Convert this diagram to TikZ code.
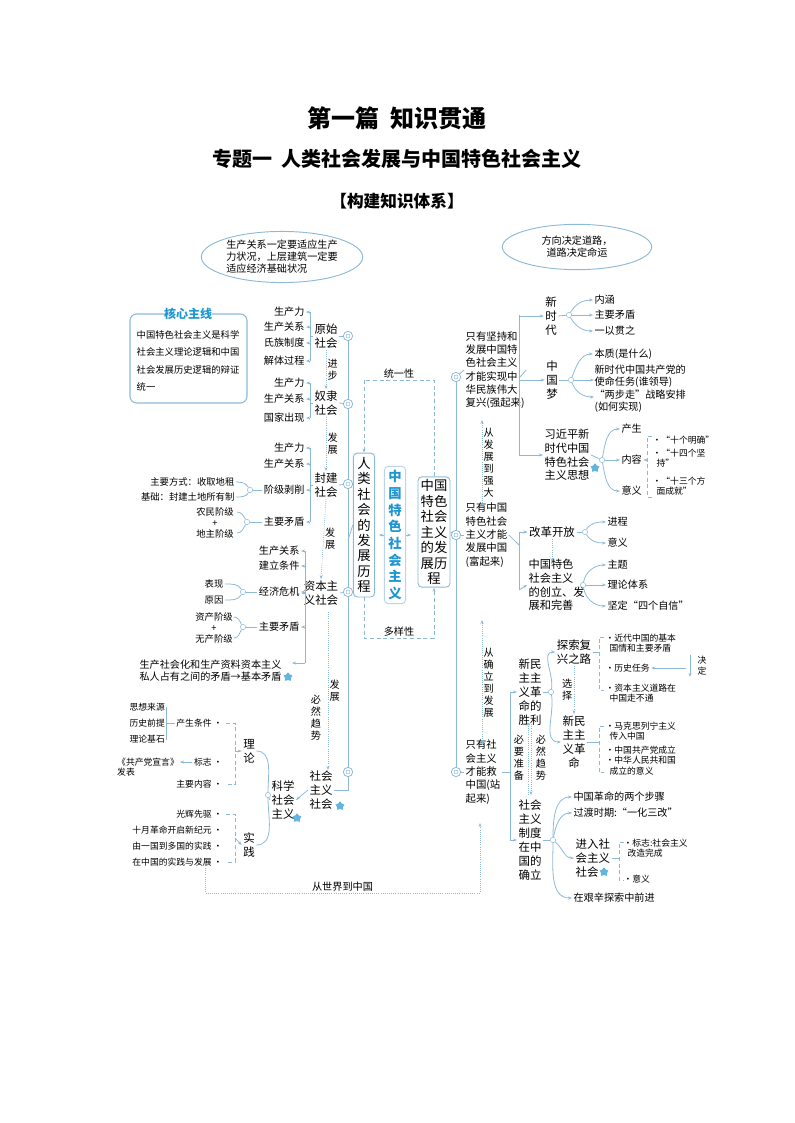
\documentclass[tikz,border=0pt]{standalone}
\usepackage{fontspec}
\setmainfont{Noto Sans CJK SC}
\usetikzlibrary{arrows.meta,shapes.geometric}
\definecolor{lb}{RGB}{140,185,215}
\definecolor{tb}{RGB}{30,150,210}
\tikzset{
 t/.style={font=\fontsize{7.6}{9}\selectfont,inner sep=1pt,align=center},
 sm/.style={font=\fontsize{6.6}{8}\selectfont,inner sep=1pt,align=left},
 m/.style={font=\fontsize{7.8}{10}\selectfont,inner sep=1pt,align=left},
 ln/.style={draw=lb,line width=0.6pt},
 la/.style={draw=lb,line width=0.6pt,-{Stealth[length=3pt]}},
 dl/.style={draw=lb,densely dotted,line width=0.6pt,-{Stealth[length=3pt]}},
 dsh/.style={draw=lb,densely dashed,line width=0.6pt},
 vbox/.style={draw=lb,rounded corners=3pt,line width=0.7pt,font=\fontsize{10}{11.6}\selectfont,align=center,inner sep=3pt},
 ring/.style={circle,draw=lb,line width=0.6pt,minimum size=7pt,inner sep=0pt,fill=white},
 bstar/.style={star,star points=5,fill=tb!70,inner sep=0pt,minimum size=7pt}
}
\begin{document}
\begin{tikzpicture}[x=0.75pt,y=-0.75pt]
\useasboundingbox (0,0) rectangle (794,1123);
% titles
\node (T1) at (397,118) {\fontsize{18}{20}\selectfont\bfseries 第一篇\ \ 知识贯通};
\node (T2) at (397,159) {\fontsize{15}{18}\selectfont\bfseries 专题一\ \ 人类社会发展与中国特色社会主义};
\node (T3) at (397,201) {\fontsize{12.5}{15}\selectfont\bfseries 【构建知识体系】};
% ellipses
\node[ellipse,draw=lb,line width=0.7pt,minimum width=112pt,minimum height=38pt,t,align=left] (E1) at (282,257) {生产关系一定要适应生产\\力状况，上层建筑一定要\\适应经济基础状况};
\node[ellipse,draw=lb,line width=0.7pt,minimum width=112pt,minimum height=34pt,t] (E2) at (577,247) {方向决定道路，\\道路决定命运};
% core box
\draw[draw=lb,line width=0.8pt,rounded corners=5pt] (165,314) -- (130,314) -- (130,403) -- (247,403) -- (247,314) -- (212,314);
\node[font=\fontsize{9}{10}\selectfont\bfseries,text=tb] (CORE) at (188,314) {核心主线};
\node[sm,font=\fontsize{7}{13}\selectfont] (CORET) at (188,361) {中国特色社会主义是科学\\社会主义理论逻辑和中国\\社会发展历史逻辑的辩证\\统一};
% left spine
\draw[ln] (348,336) -- (348,772);
\foreach \n/\y in {r1/336,r2/404,r3/484,r4/592,r5/772}{\node[ring] (\n) at (348,\y) {};\node[circle,draw=lb,minimum size=3pt,inner sep=0pt] at (348,\y) {};}
% societies
\node[t,font=\fontsize{8.6}{10.5}\selectfont] (S1) at (326,336) {原始\\社会};
\node[t,font=\fontsize{8.6}{10.5}\selectfont] (S2) at (326,403) {奴隶\\社会};
\node[t,font=\fontsize{8.6}{10.5}\selectfont] (S3) at (326,485) {封建\\社会};
\node[t,font=\fontsize{8.6}{10.5}\selectfont] (S4) at (321,593) {资本主\\义社会};
\node[t,font=\fontsize{8.6}{10.5}\selectfont] (S5) at (321,790) {社会\\主义\\社会};
\foreach \a/\b in {S1/r1,S2/r2,S3/r3,S4/r4}{\draw[ln] (\a.east) -- (\b);}
\draw[ln] (r5) -- (348,790) -- (S5.east);
\node[bstar] (st5) at (340,806) {};
\draw[dl] (S1.south) -- node[t,right]{进\\步} (S2.north);
\draw[dl] (S2.south) -- node[t,right]{发\\展} (S3.north);
\draw[dl] (S3.south) -- node[t,right]{发\\展} (S4.north);
\draw[dl] (328,612) -- node[t,right]{发\\展} (328,770);
\node[t] (BR) at (316,718) {必\\然\\趋\\势};
\foreach \txt/\y/\nm in {生产力/312/a1,生产关系/327/a2,氏族制度/343/a3,解体过程/361/a4}{\node[t,anchor=east] (\nm) at (306,\y) {\txt};\draw[la] (310,\y) -- (\nm.east);}
\draw[ln] (310,312) -- (310,361); \draw[ln] (S1.west) -- (310,336);
\foreach \txt/\y/\nm in {生产力/383/b1,生产关系/399/b2,国家出现/418/b3}{\node[t,anchor=east] (\nm) at (306,\y) {\txt};\draw[la] (310,\y) -- (\nm.east);}
\draw[ln] (310,383) -- (310,418); \draw[ln] (S2.west) -- (310,403);
\foreach \txt/\y/\nm in {生产力/448/c1,生产关系/464/c2,阶级剥削/490/c3,主要矛盾/522/c4}{\node[t,anchor=east] (\nm) at (306,\y) {\txt};\draw[la] (310,\y) -- (\nm.east);}
\draw[ln] (310,448) -- (310,522); \draw[ln] (S3.west) -- (310,485);
\node[t,anchor=east,font=\fontsize{7}{8}\selectfont] (c31) at (236,482) {主要方式：收取地租};
\node[t,anchor=east,font=\fontsize{7}{8}\selectfont] (c32) at (236,497) {基础：封建土地所有制};
\node[circle,draw=lb,inner sep=0pt,minimum size=4pt] (h3) at (250,490) {};
\draw[ln] (h3) -- (c3.west); \draw[ln] (h3) to[out=120,in=0] (c31.east); \draw[ln] (h3) to[out=-120,in=0] (c32.east);
\node[t,font=\fontsize{7}{8}\selectfont] (c41) at (215,523) {农民阶级\\+\\地主阶级};
\node[circle,draw=lb,inner sep=0pt,minimum size=4pt] (h4) at (247,522) {};
\draw[ln] (h4) -- (c4.west); \draw[ln] (h4) to[out=120,in=0] (237,512); \draw[ln] (h4) to[out=-120,in=0] (237,533);
\foreach \txt/\y/\nm in {生产关系/551/d1,建立条件/566/d2,经济危机/592/d3,主要矛盾/627/d4}{\node[t,anchor=east] (\nm) at (301,\y) {\txt};\draw[la] (305,\y) -- (\nm.east);}
\node[t,anchor=east,align=left] (d5) at (283,671) {生产社会化和生产资料资本主义\\私人占有之间的矛盾→基本矛盾};
\node[bstar] (st4) at (288,677) {};
\draw[la] (305,663) -- (292,663);
\draw[ln] (305,551) -- (305,663); \draw[ln] (S4.west) -- (305,593);
\node[t,font=\fontsize{7}{8}\selectfont] (d31) at (214,584) {表现};
\node[t,font=\fontsize{7}{8}\selectfont] (d32) at (214,600) {原因};
\node[circle,draw=lb,inner sep=0pt,minimum size=4pt] (h5) at (243,592) {};
\draw[ln] (h5) -- (d3.west); \draw[ln] (h5) to[out=120,in=0] (d31.east); \draw[ln] (h5) to[out=-120,in=0] (d32.east);
\node[t,font=\fontsize{7}{8}\selectfont] (d41) at (214,628) {资产阶级\\+\\无产阶级};
\node[circle,draw=lb,inner sep=0pt,minimum size=4pt] (h6) at (243,627) {};
\draw[ln] (h6) -- (d4.west); \draw[ln] (h6) to[out=120,in=0] (234,617); \draw[ln] (h6) to[out=-120,in=0] (234,638);
% scientific socialism
\node[t,font=\fontsize{8.6}{10.5}\selectfont] (SS) at (283,800) {科学\\社会\\主义};
\node[bstar] (st6) at (297,818) {};
\draw[la] (S5.west) -- (SS.east);
\node[circle,draw=lb,inner sep=0pt,minimum size=4pt] (h7) at (268,795) {};
\draw[ln] (h7) -- (SS.west);
\node[t,font=\fontsize{8.6}{10.5}\selectfont] (LL) at (249,751) {理\\论};
\node[t,font=\fontsize{8.6}{10.5}\selectfont] (SJ) at (249,845) {实\\践};
\draw[ln] (h7) to[out=90,in=0] (LL.east); \draw[ln] (h7) to[out=-90,in=0] (SJ.east);
\node[sm,anchor=east] (e1) at (224,723) {产生条件 ·};
\node[sm,anchor=east] (e2) at (224,762) {标志 ·};
\node[sm,anchor=east] (e3) at (224,784) {主要内容 ·};
\draw[dsh] (226,723) -- (235,723) -- (235,784) -- (226,784); \draw[la] (235,751) -- (LL.west);
\node[sm,anchor=west] (e11) at (128,707) {思想来源};
\node[sm,anchor=west] (e12) at (128,723) {历史前提};
\node[sm,anchor=west] (e13) at (128,739) {理论基石};
\draw[ln] (e11.east) -- (166,707) -- (166,739) -- (e13.east); \draw[ln] (e12.east) -- (e1.west);
\node[sm] (e21) at (148,767) {《共产党宣言》\\发表};
\draw[la] (e2.west) -- (180,762);
\foreach \txt/\y/\nm in {光辉先驱 ·/814/f1,十月革命开启新纪元 ·/830/f2,由一国到多国的实践 ·/846/f3,在中国的实践与发展 ·/862/f4}{\node[sm,anchor=east] (\nm) at (224,\y) {\txt};}
\draw[dsh] (226,814) -- (235,814) -- (235,862) -- (226,862); \draw[la] (235,838) -- (SJ.west);
% bottom link
\coordinate (bl) at (205,868);
\draw[dl] (bl) -- (205,893) -- node[t,above]{从世界到中国} (480,893) -- (480,823);
% center boxes
\node[vbox] (HB) at (364,525) {人\\类\\社\\会\\的\\发\\展\\历\\程};
\node[vbox,draw=lb!60,text=tb,font=\fontsize{10}{12.5}\selectfont\bfseries] (ZB) at (395,535) {中\\国\\特\\色\\社\\会\\主\\义};
\node[vbox,inner sep=2pt] (FB) at (434,532) {中国\\特色\\社会\\主义\\的发\\展历\\程};
\draw[dsh,-{Stealth[length=3pt]}] (FB.north) -- (FB.north |- 0,380) -- node[t,above]{统一性} (HB.north |- 0,380) -- (HB.north);
\draw[dsh,-{Stealth[length=3pt]}] (HB.south) -- (HB.south |- 0,638) -- node[t,above]{多样性} (FB.south |- 0,638) -- (FB.south);
\draw[la] (ZB.west) -- ++(-5,0);
\draw[la] (ZB.east) -- ++(5,0);
\draw[ln] (HB.west) -- (348,540);
% right spine
\draw[ln] (456,377) -- (456,772);
\draw[ln] (FB.east) -- (456,535);
\foreach \n/\y in {q1/377,q2/535,q3/772}{\node[ring] (\n) at (456,\y) {};\node[circle,draw=lb,minimum size=3pt,inner sep=0pt] at (456,\y) {};}
\node[m,anchor=west] (R1) at (464,370) {只有坚持和\\发展中国特\\色社会主义\\才能实现中\\华民族伟大\\复兴(强起来)};
\node[m,anchor=west] (R2) at (464,535) {只有中国\\特色社会\\主义才能\\发展中国\\(富起来)};
\node[m,anchor=west] (R3) at (464,772) {只有社\\会主义\\才能救\\中国(站\\起来)};
\draw[ln] (q1) -- (R1.west); \draw[ln] (q2) -- (R2.west); \draw[ln] (q3) -- (R3.west);
\draw[dl] (482,505) -- node[t,right]{从\\发\\展\\到\\强\\大} (482,420);
\draw[dl] (482,745) -- node[t,right]{从\\确\\立\\到\\发\\展} (482,620);
% R1 subtree
\draw[ln] (R1.east) -- (519,378);
\draw[ln] (519,315) -- (519,455);
\node[t,font=\fontsize{8.6}{10.5}\selectfont] (N1) at (551,316) {新\\时\\代};
\node[t,font=\fontsize{8.6}{10.5}\selectfont] (N2) at (552,380) {中\\国\\梦};
\node[m,anchor=west,font=\fontsize{8.4}{10.2}\selectfont] (N3) at (543,455) {习近平新\\时代中国\\特色社会\\主义思想};
\node[bstar] (st1) at (595,468) {};
\draw[la] (519,316) -- (N1.west); \draw[la] (519,380) -- (N2.west); \draw[la] (519,455) -- (N3.west);
\node[circle,draw=lb,inner sep=0pt,minimum size=4pt] (h11) at (569,315) {};
\draw[ln] (N1.east) -- (h11);
\node[t,anchor=west] (n11) at (593,300) {内涵};
\node[t,anchor=west] (n12) at (593,315) {主要矛盾};
\node[t,anchor=west] (n13) at (593,331) {一以贯之};
\draw[la] (h11) to[out=60,in=180] (n11.west); \draw[la] (h11) -- (n12.west); \draw[la] (h11) to[out=-60,in=180] (n13.west);
\node[circle,draw=lb,inner sep=0pt,minimum size=4pt] (h12) at (571,380) {};
\draw[ln] (N2.east) -- (h12);
\node[t,anchor=west,align=left] (n21) at (593,354) {本质(是什么)};
\node[t,anchor=west,align=left] (n22) at (593,376) {新时代中国共产党的\\使命任务(谁领导)};
\node[t,anchor=west,align=left] (n23) at (593,401) {“两步走”战略安排\\(如何实现)};
\draw[la] (h12) to[out=70,in=180] (n21.west); \draw[la] (h12) -- (594,380); \draw[la] (h12) to[out=-70,in=180] (594,397);
\node[circle,draw=lb,inner sep=0pt,minimum size=4pt] (h13) at (602,460) {};
\draw[ln] (N3.east) -- (h13);
\node[t,anchor=west] (n31) at (620,429) {产生};
\node[t,anchor=west] (n32) at (620,460) {内容};
\node[t,anchor=west] (n33) at (620,491) {意义};
\draw[la] (h13) to[out=80,in=180] (n31.west); \draw[la] (h13) -- (n32.west); \draw[la] (h13) to[out=-80,in=180] (n33.west);
\node[sm,anchor=west] (n321) at (651,440) {·“十个明确”};
\node[sm,anchor=west] (n322) at (651,458) {·“十四个坚\\\ \ 持”};
\node[sm,anchor=west] (n323) at (651,486) {·“十三个方\\\ \ 面成就”};
\draw[dsh] (652,436) -- (647,436) -- (647,497) -- (652,497); \draw[la] (647,460) -- (n32.east);
% R2 subtree
\draw[ln] (R2.east) -- (519,545);
\draw[ln] (519,532) -- (519,590);
\node[t,font=\fontsize{8.6}{10.5}\selectfont] (K1) at (552,532) {改革开放};
\node[t,font=\fontsize{8.4}{10.2}\selectfont,align=left,anchor=west] (K2) at (527,585) {中国特色\\社会主义\\的创立、发\\展和完善};
\draw[la] (519,532) -- (K1.west); \draw[la] (519,590) -- (K2.west);
\draw[dl] (K1.south) -- (K1.south |- 0,562);
\node[circle,draw=lb,inner sep=0pt,minimum size=4pt] (h21) at (585,532) {};
\draw[ln] (K1.east) -- (h21);
\node[t,anchor=west] (k11) at (606,522) {进程};
\node[t,anchor=west] (k12) at (606,543) {意义};
\draw[la] (h21) to[out=60,in=180] (k11.west); \draw[la] (h21) to[out=-60,in=180] (k12.west);
\node[circle,draw=lb,inner sep=0pt,minimum size=4pt] (h22) at (583,585) {};
\draw[ln] (K2.east) -- (h22);
\node[t,anchor=west] (k21) at (606,565) {主题};
\node[t,anchor=west] (k22) at (606,585) {理论体系};
\node[t,anchor=west] (k23) at (606,606) {坚定“四个自信”};
\draw[la] (h22) to[out=80,in=180] (k21.west); \draw[la] (h22) -- (k22.west); \draw[la] (h22) to[out=-80,in=180] (k23.west);
% R3 subtree
\draw[ln] (R3.east) -- (510,772);
\draw[ln] (510,692) -- (510,840);
\node[t,font=\fontsize{8.6}{10.5}\selectfont] (M1) at (530,692) {新民\\主主\\义革\\命的\\胜利};
\node[t,font=\fontsize{8.6}{10.5}\selectfont] (M2) at (530,840) {社会\\主义\\制度\\在中\\国的\\确立};
\draw[la] (510,692) -- (M1.west); \draw[la] (510,840) -- (M2.west);
\draw[dl] (528,795) -- (528,722); \draw[dl] (531,722) -- (531,795);
\node[t] (bz) at (519,758) {必\\要\\准\\备};
\node[t] (bq) at (541,758) {必\\然\\趋\\势};
\node[circle,draw=lb,inner sep=0pt,minimum size=4pt] (h31) at (551,692) {};
\draw[ln] (M1.east) -- (h31);
\node[t,font=\fontsize{8.6}{10.5}\selectfont] (P1) at (574,652) {探索复\\兴之路};
\node[t,font=\fontsize{8.6}{10.5}\selectfont] (P2) at (574,742) {新民\\主主\\义革\\命};
\draw[la] (h31) to[out=80,in=180] (P1.west); \draw[la] (h31) to[out=-80,in=180] (P2.west);
\draw[dl] (P1.south) -- node[t,left]{选\\择} (P2.north);
\node[sm,anchor=west] (p11) at (604,643) {·近代中国的基本\\\ \ 国情和主要矛盾};
\node[sm,anchor=west] (p12) at (604,668) {·历史任务};
\node[sm,anchor=west] (p13) at (604,693) {·资本主义道路在\\\ \ 中国走不通};
\draw[dsh] (604,637) -- (599,637) -- (599,690) -- (604,690); \draw[ln] (599,652) -- (P1.east);
\draw[la] (690,655) -- (690,677); \draw[la] (686,668) -- (p12.east);
\node[sm] (jd) at (702,666) {决\\定};
\node[sm,anchor=west] (p21) at (604,731) {·马克思列宁主义\\\ \ 传入中国};
\node[sm,anchor=west] (p22) at (604,750) {·中国共产党成立};
\node[sm,anchor=west] (p23) at (604,766) {·中华人民共和国\\\ \ 成立的意义};
\draw[dsh] (604,726) -- (599,726) -- (599,772) -- (604,772); \draw[ln] (599,742) -- (P2.east);
\node[circle,draw=lb,inner sep=0pt,minimum size=4pt] (h32) at (553,840) {};
\draw[ln] (M2.east) -- (h32);
\node[t,anchor=west] (o1) at (572,797) {中国革命的两个步骤};
\node[t,anchor=west] (o2) at (572,813) {过渡时期:“一化三改”};
\node[t,anchor=west,font=\fontsize{8.6}{10.5}\selectfont,align=left] (o3) at (574,858) {进入社\\会主义\\社会};
\node[bstar] (st3) at (604,872) {};
\node[t,anchor=west] (o4) at (572,898) {在艰辛探索中前进};
\draw[la] (h32) to[out=90,in=180] (o1.west); \draw[la] (h32) to[out=80,in=180] (o2.west); \draw[la] (h32) to[out=-40,in=180] (o3.west); \draw[la] (h32) to[out=-90,in=180] (o4.west);
\node[sm,anchor=west] (o31) at (622,848) {·标志:社会主义\\\ \ 改造完成};
\node[sm,anchor=west] (o32) at (622,879) {·意义};
\draw[dsh] (624,842) -- (619,842) -- (619,880) -- (624,880); \draw[ln] (619,858) -- (o3.east);
\end{tikzpicture}
\end{document}
